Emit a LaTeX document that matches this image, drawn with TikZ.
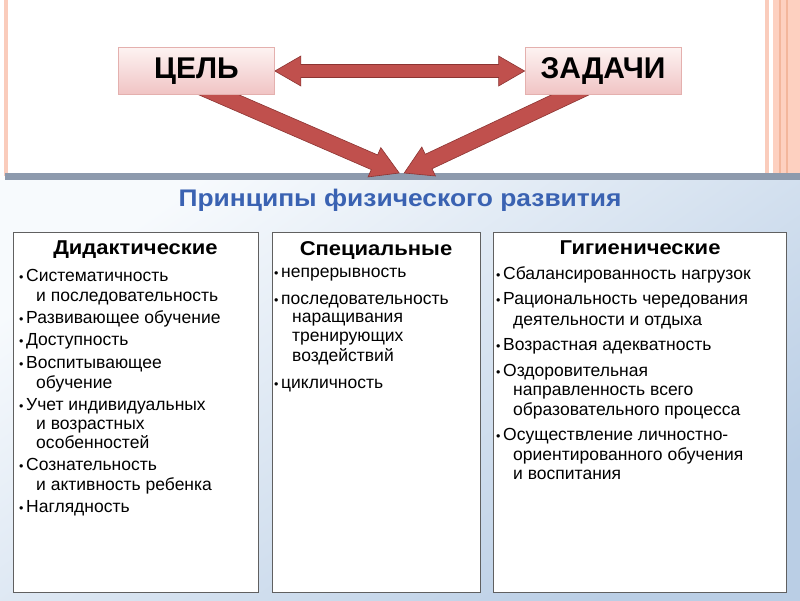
\documentclass[tikz,border=0pt]{standalone}
\usepackage{fontspec}
\setmainfont{Liberation Sans}
\newfontfamily\widefont[FakeStretch=1.1]{Liberation Sans}
\usetikzlibrary{calc,shadows}
\definecolor{arrred}{RGB}{192,80,77}
\definecolor{arrdark}{RGB}{140,52,50}
\definecolor{pinkline}{RGB}{250,204,188}
\definecolor{pinkband}{RGB}{253,208,192}
\definecolor{pinkdark}{RGB}{243,182,156}
\definecolor{slate}{RGB}{141,154,173}
\definecolor{panelA}{RGB}{247,250,253}
\definecolor{panelB}{RGB}{186,206,229}
\definecolor{titleblue}{RGB}{58,98,178}
\definecolor{boxtop}{RGB}{253,242,242}
\definecolor{boxbot}{RGB}{240,196,195}
\definecolor{boxedge}{RGB}{228,176,174}
\tikzset{
  arrowst/.style={fill=arrred, draw=arrdark, line width=0.6pt, line join=miter},
  topbox/.style={draw=boxedge, line width=0.8pt, top color=boxtop, bottom color=boxbot,
    minimum width=156, minimum height=47, inner sep=0,
    font=\fontsize{30}{32}\selectfont\bfseries},
  whitebox/.style={draw=gray!75!black, line width=0.7pt, fill=white, minimum height=360,
    drop shadow={shadow xshift=1pt, shadow yshift=-1pt, opacity=0.35, fill=black}},
  head/.style={font=\widefont\fontsize{20}{23}\selectfont\bfseries, inner sep=0},
  item/.style={anchor=mid west, inner sep=0, font=\fontsize{17.5}{20}\selectfont},
}
\newcommand\bul{{\fontsize{12.5}{12}\selectfont\raisebox{0.2pt}{•}}\hspace{2.6pt}}
% single fat arrow from #1 to #2; shaft half #3, head half #4, head length #5
\newcommand\fatarr[5]{%
  \coordinate (hbX) at ($(#2)!#5!(#1)$);
  \filldraw[arrowst] ($(#1)!#3!90:(#2)$) -- ($(hbX)!#3!90:(#2)$) -- ($(hbX)!#4!90:(#2)$)
    -- (#2) -- ($(hbX)!#4!-90:(#2)$) -- ($(hbX)!#3!-90:(#2)$) -- ($(#1)!#3!-90:(#2)$) -- cycle;}
% double fat arrow
\newcommand\dblarr[5]{%
  \coordinate (haX) at ($(#1)!#5!(#2)$);
  \coordinate (hbX) at ($(#2)!#5!(#1)$);
  \filldraw[arrowst] (#1) -- ($(haX)!#4!90:(#2)$) -- ($(haX)!#3!90:(#2)$) -- ($(hbX)!#3!90:(#2)$)
    -- ($(hbX)!#4!90:(#2)$) -- (#2) -- ($(hbX)!#4!-90:(#2)$) -- ($(hbX)!#3!-90:(#2)$)
    -- ($(haX)!#3!-90:(#2)$) -- ($(haX)!#4!-90:(#2)$) -- cycle;}
\begin{document}
\begin{tikzpicture}[x=1pt,y=-1pt]
\useasboundingbox (0,0) rectangle (800,600);
\fill[white] (0,0) rectangle (800,600);
% pink decorative stripes
\fill[pinkline] (4,0) rectangle (8,176);
\fill[pinkline] (765,0) rectangle (768.5,176);
\fill[pinkband] (773,0) rectangle (800,176);
\fill[pinkdark] (779,0) rectangle (781,176);
\fill[pinkdark] (786,0) rectangle (788,176);
% panel
\shade[shading=axis, top color=panelA, bottom color=panelB, shading angle=35] (0,180) rectangle (800,600);
\node[fill=slate, minimum width=795, minimum height=7, inner sep=0, anchor=north west] (band) at (5,173) {};
% top boxes positions
\path (196.5,71) node[topbox] (cel) {ЦЕЛЬ}
      (603,71) node[topbox] (zad) {ЗАДАЧИ};
% arrows (behind boxes)
\coordinate (tipL) at ($(band.north)+(-3.5,0)$);
\coordinate (tipR) at ($(band.north)+(1.5,0)$);
\coordinate (stL) at ($(cel.south)+(-12,-15)$);
\coordinate (stR) at ($(zad.south)+(-1,-15)$);
\fatarr{stL}{tipL}{8pt}{16pt}{27pt}
\fatarr{stR}{tipR}{8pt}{16pt}{27pt}
\dblarr{cel.east}{zad.west}{6.5pt}{15pt}{26pt}
% redraw boxes on top
\path (196.5,71) node[topbox] (cel) {ЦЕЛЬ}
      (603,71) node[topbox] (zad) {ЗАДАЧИ};
% title
\node[font=\widefont\fontsize{24}{28}\selectfont\bfseries, text=titleblue, inner sep=0] (title) at (400,200) {Принципы физического развития};
% three boxes
\node[whitebox, minimum width=245] (bL) at (135.5,412) {};
\node[whitebox, minimum width=208] (bM) at (376,412) {};
\node[whitebox, minimum width=293] (bR) at (639.5,412) {};
\node[head] (hL) at (135.5,250) {Дидактические};
\node[head] (hM) at (376,251) {Специальные};
\node[head] (hR) at (640,248) {Гигиенические};
% left items
\foreach \x/\y/\t [count=\i] in {
  19/279/{\bul Систематичность}, 36/299/{и последовательность},
  19/321/{\bul Развивающее обучение}, 19/343/{\bul Доступность},
  19/366/{\bul Воспитывающее}, 36/386/{обучение},
  19/408/{\bul Учет индивидуальных}, 36/427/{и возрастных}, 36/446/{особенностей},
  19/468/{\bul Сознательность}, 36/488/{и активность ребенка},
  19/510/{\bul Наглядность}}
  \node[item] (l\i) at (\x,\y) {\t};
% middle items
\foreach \x/\y/\t [count=\i] in {
  274/275/{\bul непрерывность},
  274/302/{\bul последовательность}, 292/320/{наращивания}, 292/339/{тренирующих}, 292/359/{воздействий},
  274/386/{\bul цикличность}}
  \node[item] (m\i) at (\x,\y) {\t};
% right items
\foreach \x/\y/\t [count=\i] in {
  496/277/{\bul Сбалансированность нагрузок},
  496/302/{\bul Рациональность чередования}, 513/323/{деятельности и отдыха},
  496/348/{\bul Возрастная адекватность},
  496/374/{\bul Оздоровительная}, 513/393/{направленность всего}, 513/413/{образовательного процесса},
  496/438/{\bul Осуществление личностно-}, 513/458/{ориентированного обучения}, 513/477/{и воспитания}}
  \node[item] (r\i) at (\x,\y) {\t};
\end{tikzpicture}
\end{document}
